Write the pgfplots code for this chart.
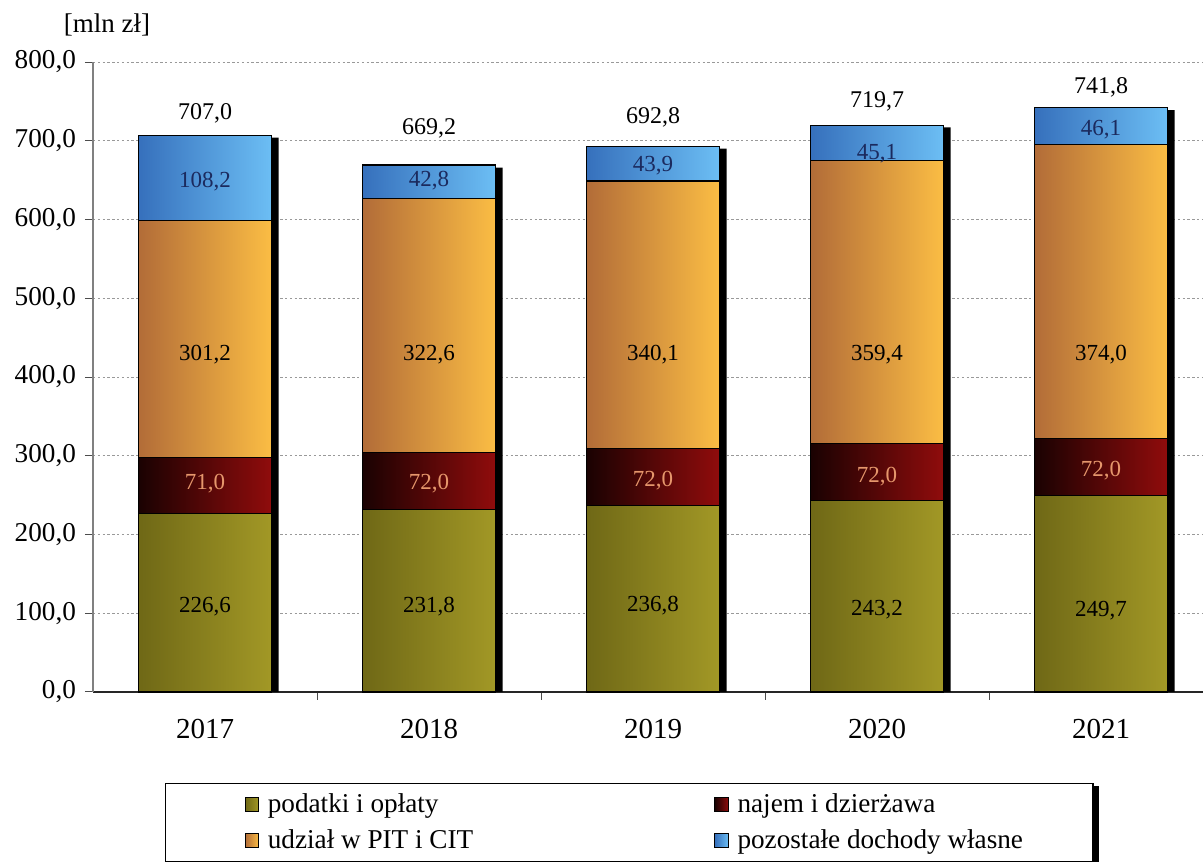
\documentclass[border=0pt]{standalone}
\usepackage{pgfplots}
\usepackage{pgfplotstable}
\pgfplotsset{compat=1.18}
\usepackage{fontspec}
\setmainfont{Liberation Serif}

\pgfdeclarelayer{background}
\pgfsetlayers{background,main}

\definecolor{olL}{HTML}{6F6816}
\definecolor{olR}{HTML}{A29826}
\definecolor{rdL}{HTML}{1A0202}
\definecolor{rdR}{HTML}{900C0C}
\definecolor{orL}{HTML}{B26C38}
\definecolor{orR}{HTML}{FBBD44}
\definecolor{blL}{HTML}{3670BC}
\definecolor{blR}{HTML}{6CBEF4}
\definecolor{navy}{HTML}{1B2A5E}
\definecolor{peach}{HTML}{E6976C}

% year, podatki, najem, udzial, pozostale
\pgfplotstableread{
x pod naj udz poz
0 226.6 71.0 301.2 108.2
1 231.8 72.0 322.6 42.8
2 236.8 72.0 340.1 43.9
3 243.2 72.0 359.4 45.1
4 249.7 72.0 374.0 46.1
}\dane

\pgfplotsset{
  base/.style={width=555pt, height=315pt, scale only axis,
    xmin=-0.5, xmax=4.455, ymin=0, ymax=800, clip=false,
    at={(0,0)}, anchor=south west},
  seg/.style={draw=black, line width=0.6pt},
}

\begin{document}
\begin{tikzpicture}
\path[use as bounding box] (-46.5pt,-84.5pt) rectangle (555pt,346pt);

% axes, grid and bar shadows
\begin{axis}[base,
    axis x line=bottom, axis y line=left, axis line style={-},
    x axis line style={black!85, line width=0.6pt},
    y axis line style={gray, line width=0.6pt},
    ytick={0,100,...,800},
    ymajorgrids,
    grid style={gray!80, dash pattern=on 1.2pt off 1.2pt, line width=0.4pt},
    xtick={0,...,4}, xticklabels={2017,2018,2019,2020,2021},
    minor xtick={0.5,1.5,2.5,3.5},
    major x tick style={draw=none},
    tick align=outside, major tick length=4pt, minor tick length=4pt,
    tick style={black!70, line width=0.5pt},
    yticklabel style={font=\fontsize{13.6}{16}\selectfont, xshift=-1pt},
    xticklabel style={font=\fontsize{14.5}{17}\selectfont, yshift=-6pt},
    /pgf/number format/use comma,
    /pgf/number format/fixed,
    /pgf/number format/fixed zerofill,
    /pgf/number format/precision=1,
    /pgf/number format/1000 sep={},
    /pgf/number format/assume math mode=true,
]
\addplot[ybar, bar width=66.5pt, bar shift=3.5pt, fill=black, draw=none]
  coordinates {(0,704) (1,666) (2,690) (3,717) (4,739)};
\node[font=\fontsize{13.5}{16}\selectfont] at (axis description cs:0.0126,1.0587) {[mln zł]};
\end{axis}

% stacked bars, one axis per year so that each bar gets its own shading
\pgfplotsinvokeforeach{0,...,4}{
\begin{axis}[base, hide axis,
    ybar stacked, bar width=66.5pt,
    restrict x to domain=#1:#1]
\addplot[seg, left color=olL, right color=olR] table[y=pod] {\dane};
\addplot[seg, left color=rdL, right color=rdR] table[y=naj] {\dane};
\addplot[seg, left color=orL, right color=orR] table[y=udz] {\dane};
\addplot[seg, left color=blL, right color=blR] table[y=poz] {\dane};
\end{axis}
}

% value labels and legend
\begin{axis}[base, hide axis,
    point meta=explicit,
    nodes near coords={\pgfmathprintnumber[assume math mode=true]{\pgfplotspointmeta}},
    every node near coord/.append style={anchor=center, font=\fontsize{11.5}{14}\selectfont},
    /pgf/number format/use comma,
    /pgf/number format/fixed,
    /pgf/number format/fixed zerofill,
    /pgf/number format/precision=1,
    legend image code/.code={\draw[#1, line width=0.5pt] (0pt,-3.6pt) rectangle (6.8pt,3.6pt); \path (-6.5pt,0pt) (9pt,0pt);},
    legend columns=2, legend cell align=left,
    legend style={name=leg, at={(0.0649,-0.1444)}, anchor=north west,
      draw=black, line width=0.6pt, fill=white,
      font=\fontsize{13.6}{16}\selectfont,
      inner xsep=33pt, inner ysep=3pt, row sep=3pt,
      /tikz/every even column/.append style={column sep=112pt}},
]
\addlegendimage{seg, left color=olL, right color=olR}
\addlegendimage{seg, left color=rdL, right color=rdR}
\addlegendimage{seg, left color=orL, right color=orR}
\addlegendimage{seg, left color=blL, right color=blR}
\legend{podatki i opłaty, najem i dzierżawa, udział w PIT i CIT, pozostałe dochody własne}

\addplot[draw=none, every node near coord/.append style={text=black}] table[meta=v] {
x y v
0 108 226.6
1 108 231.8
2 110 236.8
3 105 243.2
4 103 249.7
};
\addplot[draw=none, every node near coord/.append style={text=peach}] table[meta=v] {
x y v
0 264 71.0
1 264 72.0
2 268 72.0
3 273 72.0
4 281 72.0
};
\addplot[draw=none, every node near coord/.append style={text=black}] table[meta=v] {
x y v
0 428 301.2
1 428 322.6
2 428 340.1
3 428 359.4
4 429 374.0
};
\addplot[draw=none, every node near coord/.append style={text=navy}] table[meta=v] {
x y v
0 648 108.2
1 650 42.8
2 669 43.9
3 684 45.1
4 714 46.1
};
\addplot[draw=none, every node near coord/.append style={text=black, font=\fontsize{12}{14}\selectfont}] table[meta=v] {
x y v
0 735 707.0
1 716 669.2
2 730 692.8
3 750 719.7
4 768 741.8
};
\end{axis}

% shadow of the legend box
\begin{pgfonlayer}{background}
\fill[black] ([shift={(2.6pt,-1pt)}]leg.south west) rectangle ([shift={(2.6pt,-1.5pt)}]leg.north east);
\end{pgfonlayer}
\end{tikzpicture}
\end{document}
